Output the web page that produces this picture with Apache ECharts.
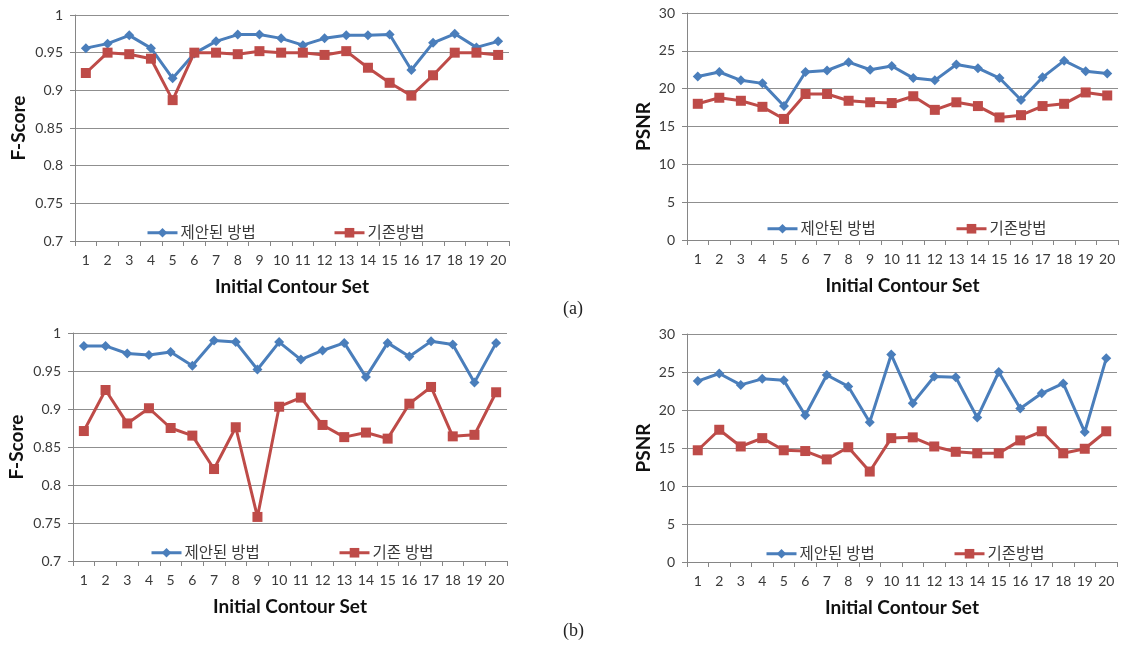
<!DOCTYPE html>
<html>
<head>
<meta charset="utf-8">
<script src="https://cdn.jsdelivr.net/npm/echarts@6/dist/echarts.min.js"></script>
<style>
html,body{margin:0;padding:0;background:#fff;}
#chart{width:1146px;height:649px;}
</style>
</head>
<body>
<div id="chart"></div>
<script>
const categories = ['1','2','3','4','5','6','7','8','9','10','11','12','13','14','15','16','17','18','19','20'];

const nameProposed = '제안된 방법';
const nameExistingA = '기존방법';
const nameExistingB = '기존 방법';

// (a) F-Score
const aFProposed = [0.956,0.962,0.973,0.956,0.916,0.949,0.965,0.974,0.974,0.969,0.960,0.969,0.973,0.973,0.974,0.927,0.963,0.975,0.957,0.965];
const aFExisting = [0.923,0.950,0.948,0.942,0.887,0.950,0.950,0.948,0.952,0.950,0.950,0.947,0.952,0.930,0.910,0.893,0.920,0.950,0.950,0.947];
// (a) PSNR
const aPProposed = [21.6,22.2,21.1,20.7,17.7,22.2,22.4,23.5,22.5,23.0,21.4,21.1,23.2,22.7,21.4,18.5,21.5,23.7,22.3,22.0];
const aPExisting = [18.0,18.8,18.4,17.6,16.0,19.3,19.3,18.4,18.2,18.1,19.0,17.2,18.2,17.7,16.2,16.5,17.7,18.0,19.5,19.1];
// (b) F-Score
const bFProposed = [0.983,0.983,0.973,0.971,0.975,0.957,0.990,0.988,0.952,0.988,0.965,0.977,0.987,0.942,0.987,0.969,0.989,0.985,0.935,0.987];
const bFExisting = [0.871,0.925,0.881,0.901,0.875,0.865,0.821,0.876,0.758,0.903,0.915,0.879,0.863,0.869,0.861,0.907,0.929,0.864,0.866,0.922];
// (b) PSNR
const bPProposed = [23.8,24.8,23.3,24.1,23.9,19.3,24.6,23.1,18.4,27.3,20.9,24.4,24.3,19.0,25.0,20.2,22.2,23.5,17.1,26.8];
const bPExisting = [14.7,17.4,15.2,16.3,14.7,14.6,13.5,15.1,11.9,16.3,16.4,15.2,14.5,14.3,14.3,16.0,17.2,14.3,14.9,17.2];

const BLUE = '#4a7ebb';
const RED = '#be4b48';
const TXT = '#3a3a3a';
const AX = '#868686';
const FONT = 'Lato, "Noto Sans CJK KR", sans-serif';

const grids = [
  {left:75, top:15, width:434, height:226},
  {left:687, top:13, width:431, height:227},
  {left:73, top:333, width:434, height:228},
  {left:687, top:334, width:430, height:228}
];

function xAxis(i){
  return {
    type:'category', gridIndex:i, data:categories,
    axisLine:{lineStyle:{color:AX,width:1}},
    axisTick:{show:true,length:5,lineStyle:{color:AX}},
    axisLabel:{color:TXT,fontSize:14,margin:12,interval:0,fontFamily:FONT},
    name:'Initial Contour Set', nameLocation:'middle', nameGap:36,
    nameTextStyle:{color:'#111',fontSize:19,fontWeight:'bold',fontFamily:FONT}
  };
}
function yAxis(i, isF){
  return {
    type:'value', gridIndex:i,
    min: isF ? 0.7 : 0, max: isF ? 1 : 30, interval: isF ? 0.05 : 5,
    axisLine:{show:true,lineStyle:{color:AX,width:1}},
    axisTick:{show:true,length:5,lineStyle:{color:AX}},
    splitLine:{show:true,lineStyle:{color:'#8f8f8f',width:1}},
    axisLabel:{color:TXT,fontSize:14,margin:12,fontFamily:FONT,
      formatter: v => isF ? String(+v.toFixed(2)) : String(v)},
    name: isF ? 'F-Score' : 'PSNR', nameLocation:'middle', nameGap: isF ? 47 : 34,
    nameTextStyle:{color:'#111',fontSize:19,fontWeight:'bold',fontFamily:FONT}
  };
}
function lineSeries(name, data, i, blue){
  return {
    type:'line', name:name, data:data, xAxisIndex:i, yAxisIndex:i,
    symbol: blue ? 'diamond' : 'rect',
    symbolSize: 10,
    showAllSymbol:true,
    lineStyle:{color: blue ? BLUE : RED, width:3},
    itemStyle:{color: blue ? BLUE : RED},
    emphasis:{disabled:true},
    animation:false
  };
}
function legend(name, left, top){
  return {
    data:[name], left:left, top:top, itemWidth:30, itemHeight:12, itemGap:0,
    selectedMode:false,
    lineStyle:{width:3},
    textStyle:{color:TXT,fontSize:15.5,fontFamily:FONT,padding:[0,0,0,-2]}
  };
}

const option = {
  animation:false,
  textStyle:{fontFamily:FONT},
  grid: grids,
  xAxis: [xAxis(0),xAxis(1),xAxis(2),xAxis(3)],
  yAxis: [yAxis(0,true),yAxis(1,false),yAxis(2,true),yAxis(3,false)],
  legend: [
    legend(nameProposed, 141, 220),
    legend(nameExistingA, 328, 220),
    legend(nameProposed, 761, 216),
    legend(nameExistingA, 950, 216),
    legend(nameProposed, 145, 540),
    legend(nameExistingB, 333, 540),
    legend(nameProposed, 760, 541),
    legend(nameExistingA, 948, 541)
  ],
  series: [
    lineSeries(nameProposed, aFProposed, 0, true),
    lineSeries(nameExistingA, aFExisting, 0, false),
    lineSeries(nameProposed, aPProposed, 1, true),
    lineSeries(nameExistingA, aPExisting, 1, false),
    lineSeries(nameProposed, bFProposed, 2, true),
    lineSeries(nameExistingB, bFExisting, 2, false),
    lineSeries(nameProposed, bPProposed, 3, true),
    lineSeries(nameExistingA, bPExisting, 3, false)
  ],
  graphic: [
    {type:'text', left:563, top:300, style:{text:'(a)', fontSize:18, fontFamily:'"Liberation Serif", "DejaVu Serif", serif', fill:'#222'}},
    {type:'text', left:563, top:622, style:{text:'(b)', fontSize:18, fontFamily:'"Liberation Serif", "DejaVu Serif", serif', fill:'#222'}}
  ]
};

const chart = echarts.init(document.getElementById('chart'), null, {renderer:'canvas'});
chart.setOption(option);
</script>
</body>
</html>
